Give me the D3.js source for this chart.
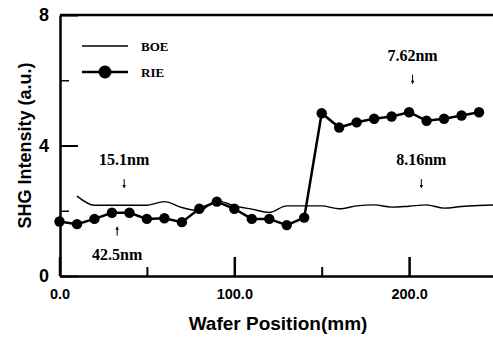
<!DOCTYPE html>
<html>
<head>
<meta charset="utf-8">
<script src="https://cdn.jsdelivr.net/npm/d3@7"></script>
<style>
  body { margin: 0; background: #fff; }
  svg { display: block; }
  .axis path, .axis line { stroke: #000; }
  .axis text { font-family: "Liberation Sans", Arial, sans-serif; font-weight: bold; fill: #000; }
  .note { font-family: "Liberation Serif", "Times New Roman", serif; font-weight: bold; fill: #000; }
</style>
</head>
<body>
<div id="chart"></div>
<script>
// wafer positions (mm)
const rieX = [0, 10, 20, 30, 40, 50, 60, 70, 80, 90, 100, 110, 120, 130, 140, 150, 160, 170, 180, 190, 200, 210, 220, 230, 240];
const rieY = [1.67, 1.59, 1.75, 1.94, 1.94, 1.75, 1.77, 1.65, 2.06, 2.28, 2.06, 1.75, 1.75, 1.56, 1.79, 4.99, 4.55, 4.71, 4.82, 4.89, 5.02, 4.76, 4.82, 4.92, 5.02];
const boeX = [10, 20, 30, 40, 50, 60, 70, 80, 90, 100, 110, 120, 130, 140, 150, 160, 170, 180, 190, 200, 210, 220, 230, 240, 250];
const boeY = [2.45, 2.17, 2.17, 2.17, 2.17, 2.28, 2.10, 2.00, 2.31, 2.15, 2.05, 1.95, 2.15, 2.15, 2.15, 2.06, 2.15, 2.18, 2.11, 2.14, 2.18, 2.08, 2.13, 2.16, 2.18];
const xMajor = [0, 100, 200];
const xMinor = [50, 150];
const yMajor = [0, 4, 8];
const yMinor = [2, 6];
// thickness annotations: label, x(mm), y value, arrow direction
const notes = [
  { label: "15.1nm", x: 37, y: 3.4, dir: "down" },
  { label: "42.5nm", x: 33, y: 0.5, dir: "up" },
  { label: "7.62nm", x: 202, y: 6.6, dir: "down" },
  { label: "8.16nm", x: 207, y: 3.4, dir: "down" }
];

let width = 493, height = 339;
let padLeft = 60, padTop = 15, padBottom = 276;

let xScale = d3.scaleLinear().domain([0, 250]).range([59.5, 59.5 + 250 * 1.748]);
let yScale = d3.scaleLinear().domain([0, 8]).range([padBottom, padTop]);

let svg = d3.select("#chart")
  .append("svg")
  .attr("width", width)
  .attr("height", height);

// minor ticks
svg.append("g")
  .attr("class", "axis")
  .attr("transform", "translate(" + padLeft + ",0)")
  .call(d3.axisLeft(yScale).tickValues(yMinor).tickSize(-9).tickFormat(""))
  .call(g => g.select(".domain").remove())
  .selectAll("line").attr("stroke-width", 1.5);

svg.append("g")
  .attr("class", "axis")
  .attr("transform", "translate(0," + padBottom + ")")
  .call(d3.axisBottom(xScale).tickValues(xMinor).tickSize(-9).tickFormat(""))
  .call(g => g.select(".domain").remove())
  .selectAll("line").attr("stroke-width", 2);

// major y axis
let yAxis = svg.append("g")
  .attr("class", "axis")
  .attr("transform", "translate(" + padLeft + ",0)")
  .call(d3.axisLeft(yScale).tickValues(yMajor).tickSize(-18).tickPadding(11).tickSizeOuter(0));
yAxis.select(".domain").attr("stroke-width", 2.5);
yAxis.selectAll("line").attr("stroke-width", 2);
yAxis.selectAll("text").style("font-size", "18px");

// major x axis
let xAxis = svg.append("g")
  .attr("class", "axis")
  .attr("transform", "translate(0," + padBottom + ")")
  .call(d3.axisBottom(xScale).tickValues(xMajor).tickSize(-19).tickPadding(13).tickSizeOuter(0).tickFormat(d3.format(".1f")));
xAxis.select(".domain").attr("stroke-width", 2.5);
xAxis.selectAll("line").attr("stroke-width", 2.5);
xAxis.selectAll("text").style("font-size", "14.5px");

// top frame line
svg.append("line")
  .attr("x1", padLeft).attr("x2", width)
  .attr("y1", yScale(8)).attr("y2", yScale(8))
  .attr("stroke", "#000")
  .attr("stroke-width", 2.5);

// BOE line
let boeData = boeX.map((d, i) => [d, boeY[i]]);
let line = d3.line()
  .x(d => xScale(d[0]))
  .y(d => yScale(d[1]));

svg.append("path")
  .datum(boeData)
  .attr("d", line.curve(d3.curveMonotoneX))
  .attr("fill", "none")
  .attr("stroke", "#000")
  .attr("stroke-width", 1.4);

// RIE line + markers
let rieData = rieX.map((d, i) => [d, rieY[i]]);
svg.append("path")
  .datum(rieData)
  .attr("d", d3.line().x(d => xScale(d[0])).y(d => yScale(d[1])))
  .attr("fill", "none")
  .attr("stroke", "#000")
  .attr("stroke-width", 2.5);

svg.selectAll(".pt")
  .data(rieData)
  .enter()
  .append("circle")
  .attr("class", "pt")
  .attr("cx", d => xScale(d[0]))
  .attr("cy", d => yScale(d[1]))
  .attr("r", 5.2)
  .attr("fill", "#000");

// legend
let legend = svg.append("g").attr("transform", "translate(82,46)");
legend.append("line")
  .attr("x1", 0).attr("x2", 46)
  .attr("stroke", "#000").attr("stroke-width", 1.4);
legend.append("text")
  .attr("class", "note")
  .attr("x", 59).attr("y", 4.5)
  .style("font-size", "13px")
  .text("BOE");
legend.append("line")
  .attr("x1", 0).attr("x2", 46)
  .attr("y1", 26).attr("y2", 26)
  .attr("stroke", "#000").attr("stroke-width", 2.5);
legend.append("circle")
  .attr("cx", 23).attr("cy", 26).attr("r", 6.5)
  .attr("fill", "#000");
legend.append("text")
  .attr("class", "note")
  .attr("x", 59).attr("y", 30.5)
  .style("font-size", "13px")
  .text("RIE");

// annotations with small arrows
notes.forEach(n => {
  let cx = xScale(n.x);
  let g = svg.append("g");
  let ty = yScale(n.y);
  g.append("text")
    .attr("class", "note")
    .attr("x", cx)
    .attr("y", ty)
    .attr("text-anchor", "middle")
    .style("font-size", "16px")
    .text(n.label);
  let a0, a1;
  if (n.dir === "down") { a0 = ty + 14; a1 = ty + 23; }
  else { a0 = ty - 24; a1 = ty - 33; }
  g.append("line")
    .attr("x1", cx).attr("x2", cx)
    .attr("y1", a0).attr("y2", a1)
    .attr("stroke", "#000").attr("stroke-width", 1);
  let tip = a1, s = n.dir === "down" ? -3 : 3;
  g.append("path")
    .attr("d", "M" + (cx - 1.8) + "," + (tip + s) + "L" + cx + "," + tip + "L" + (cx + 1.8) + "," + (tip + s) + "Z")
    .attr("fill", "#000");
});

// axis titles
svg.append("text")
  .attr("transform", "translate(31," + ((padTop + padBottom) / 2) + ") rotate(-90)")
  .attr("text-anchor", "middle")
  .style("font-family", "'Liberation Sans', Arial, sans-serif")
  .style("font-weight", "bold")
  .style("font-size", "18px")
  .text("SHG Intensity (a.u.)");

svg.append("text")
  .attr("x", 278)
  .attr("y", 330)
  .attr("text-anchor", "middle")
  .style("font-family", "'Liberation Sans', Arial, sans-serif")
  .style("font-weight", "bold")
  .style("font-size", "19px")
  .text("Wafer Position(mm)");
</script>
</body>
</html>
